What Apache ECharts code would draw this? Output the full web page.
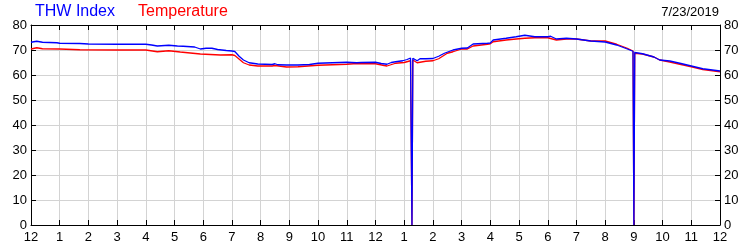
<!DOCTYPE html>
<html>
<head>
<meta charset="utf-8">
<script src="https://cdn.jsdelivr.net/npm/echarts@6/dist/echarts.min.js"></script>
<style>html,body{margin:0;padding:0;background:#fff}#c{width:750px;height:250px}</style>
</head>
<body>
<div id="c"></div>
<script>
var hourLabels = ['12','1','2','3','4','5','6','7','8','9','10','11','12','1','2','3','4','5','6','7','8','9','10','11','12'];
var yTicks = [0,10,20,30,40,50,60,70,80];
var dateText = '7/23/2019';
var seriesNames = ['THW Index', 'Temperature'];

var thwHours = [0,0.2,0.4,0.9,1.0,1.7,2.0,3.0,4.0,4.2,4.4,4.8,5.1,5.3,5.7,5.9,6.1,6.3,6.5,6.8,7.0,7.1,7.25,7.4,7.6,7.9,8.4,8.5,8.6,8.9,9.3,9.7,10.0,10.5,11.0,11.35,11.5,12.0,12.2,12.4,12.55,12.7,12.95,13.1,13.22,13.27,13.3,13.45,13.55,13.75,14.0,14.2,14.4,14.7,15.0,15.2,15.4,15.9,16.0,16.1,16.55,16.9,17.2,17.55,18.0,18.1,18.3,18.65,19.0,19.5,20.0,20.4,20.75,20.97,21.0,21.03,21.3,21.7,21.9,22.25,22.6,23.0,23.4,24];
var thwValues = [73.1,73.5,73.1,72.9,72.7,72.6,72.4,72.3,72.3,72.0,71.6,71.9,71.6,71.5,71.2,70.4,70.7,70.7,70.2,69.8,69.6,69.4,67.5,66.0,64.9,64.4,64.2,64.5,64.1,64.0,64.0,64.2,64.7,64.9,65.1,64.9,65.0,65.1,64.6,64.3,65.0,65.3,65.7,66.2,66.8,0,66.7,65.7,66.5,66.5,66.6,67.5,68.7,70.0,70.7,70.8,72.4,72.7,72.8,74.0,74.7,75.3,75.9,75.3,75.3,75.5,74.4,74.7,74.4,73.6,73.2,72.0,70.5,69.5,0,69.0,68.5,67.2,66.0,65.6,64.7,63.6,62.5,61.6];

var tempHours = [0,0.2,0.4,1.0,1.7,3.0,4.0,4.4,4.8,5.2,5.9,6.6,7.0,7.1,7.4,7.6,7.9,8.4,8.5,8.9,9.3,10.0,10.5,11.0,11.35,12.0,12.3,12.4,12.7,13.0,13.22,13.27,13.3,13.45,13.75,14.0,14.2,14.5,14.7,15.0,15.2,15.4,15.9,16.0,16.1,16.55,16.9,17.2,17.55,18.0,18.3,18.65,19.0,19.5,20.0,20.4,20.75,20.97,21.0,21.03,21.3,21.7,21.9,22.25,22.6,23.0,23.4,24];
var tempValues = [70.4,70.9,70.5,70.4,70.1,70.0,70.0,69.3,69.7,69.2,68.4,68.0,68.1,67.8,64.9,64.0,63.6,63.6,63.8,63.2,63.3,63.9,64.1,64.3,64.6,64.5,63.8,63.6,64.7,65.0,65.7,0,66.0,64.9,65.5,65.7,66.5,68.7,69.3,70.4,70.4,71.6,72.3,72.5,73.3,74.0,74.4,74.7,74.9,74.9,74.0,74.4,74.4,73.6,73.6,72.3,70.8,69.6,0,68.7,68.4,67.2,66.0,65.2,64.3,63.3,62.2,61.3];

function zip(a, b) { return a.map(function (v, i) { return [v, b[i]]; }); }

var FONT = '"Liberation Sans", Arial, sans-serif';
var chart = echarts.init(document.getElementById('c'), null, {renderer: 'canvas'});
var axisCommon = {
  axisLine: {show: true, onZero: false, lineStyle: {color: '#000', width: 1}},
  axisTick: {show: true, inside: true, length: 5, lineStyle: {color: '#000'}}
};
chart.setOption({
  animation: false,
  backgroundColor: '#fff',
  grid: {left: 31, right: 30, top: 25, bottom: 25, containLabel: false},
  legend: {
    left: 30, top: 4, icon: 'none', itemWidth: 0, itemGap: 18, padding: 0,
    textStyle: {fontFamily: FONT, fontSize: 16},
    data: [
      {name: seriesNames[0], textStyle: {color: '#0000ff'}},
      {name: seriesNames[1], textStyle: {color: '#ff0000'}}
    ],
    selectedMode: false
  },
  title: {
    text: dateText, right: 31, top: 6, padding: 0,
    textStyle: {fontFamily: FONT, fontSize: 13, fontWeight: 'normal', color: '#000'}
  },
  xAxis: [
    Object.assign({}, axisCommon, {
      type: 'value', position: 'bottom', min: 0, max: 24, interval: 1,
      axisLabel: {margin: 6, fontFamily: FONT, fontSize: 13, color: '#000',
        formatter: function (v) { return hourLabels[Math.round(v)]; }},
      splitLine: {show: true, lineStyle: {color: '#d3d3d3', width: 1}}
    }),
    Object.assign({}, axisCommon, {
      type: 'value', position: 'top', min: 0, max: 24, interval: 1,
      axisLabel: {show: false}, splitLine: {show: false}
    })
  ],
  yAxis: [
    Object.assign({}, axisCommon, {
      type: 'value', position: 'left', min: yTicks[0], max: yTicks[yTicks.length - 1], interval: 10,
      axisLabel: {margin: 4, fontFamily: FONT, fontSize: 13, color: '#000'},
      splitLine: {show: true, lineStyle: {color: '#d3d3d3', width: 1}}
    }),
    Object.assign({}, axisCommon, {
      type: 'value', position: 'right', min: yTicks[0], max: yTicks[yTicks.length - 1], interval: 10,
      axisLabel: {margin: 4, fontFamily: FONT, fontSize: 13, color: '#000'},
      splitLine: {show: false}
    })
  ],
  series: [
    {name: seriesNames[1], type: 'line', data: zip(tempHours, tempValues), showSymbol: false,
      lineStyle: {color: '#ff0000', width: 1.3}, itemStyle: {color: '#ff0000'}},
    {name: seriesNames[0], type: 'line', data: zip(thwHours, thwValues), showSymbol: false,
      lineStyle: {color: '#0000ff', width: 1.3}, itemStyle: {color: '#0000ff'}}
  ]
});
</script>
</body>
</html>
